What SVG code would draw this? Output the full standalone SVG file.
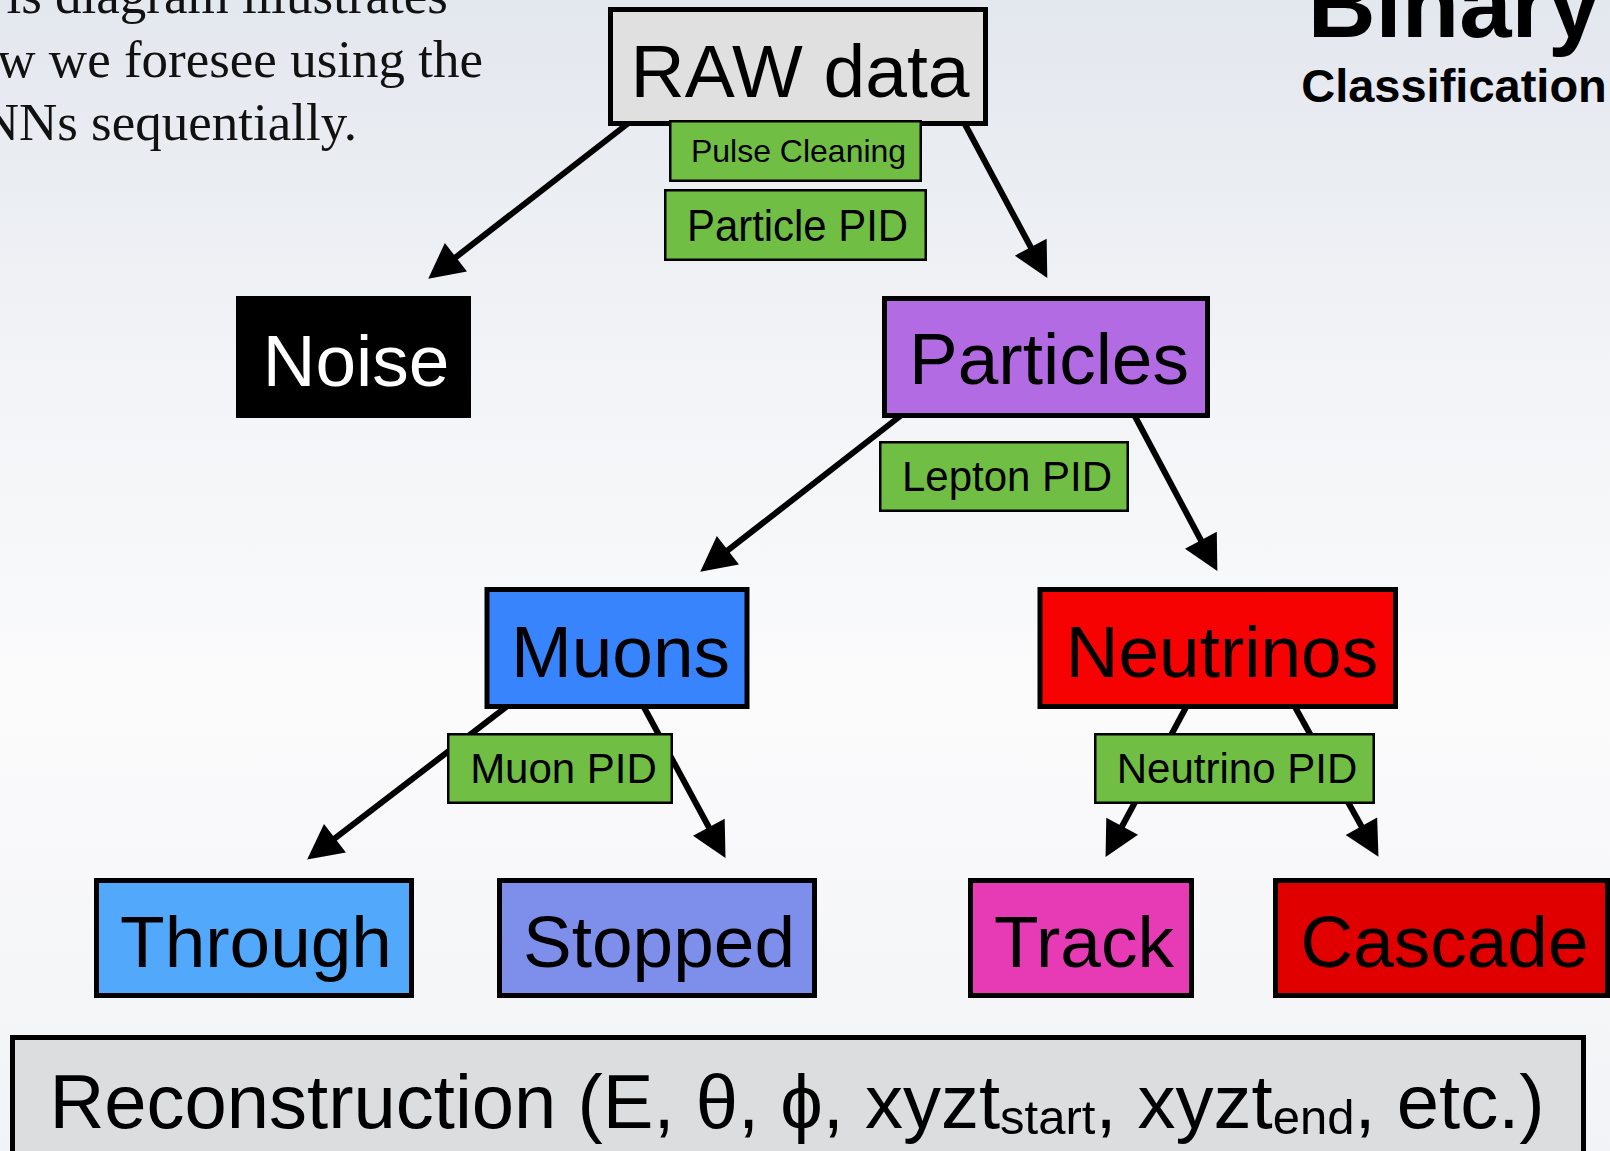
<svg xmlns="http://www.w3.org/2000/svg" width="1610" height="1151" viewBox="0 0 1610 1151">
  <defs>
    <linearGradient id="bg" x1="0" y1="0" x2="0" y2="1">
      <stop offset="0" stop-color="#e3e7ee"/>
      <stop offset="0.3" stop-color="#f1f3f6"/>
      <stop offset="0.6" stop-color="#fbfbfc"/>
      <stop offset="1" stop-color="#f2f3f6"/>
    </linearGradient>
    <marker id="arrow" markerUnits="userSpaceOnUse" markerWidth="36" markerHeight="36" refX="10" refY="18" orient="auto" overflow="visible">
      <path d="M0,0 L35,18 L0,36 Z" fill="#000"/>
    </marker>
    <style>
      .node { stroke: #000; stroke-width: 5; }
      .tag { fill: #70be44; stroke: #000; stroke-width: 2.5; }
      .big { font-family: "Liberation Sans", Arial, Helvetica, sans-serif; font-size: 73px; fill: #000; text-anchor: middle; }
      .tagtxt { font-family: "Liberation Sans", Arial, Helvetica, sans-serif; font-size: 42px; fill: #000; text-anchor: middle; }
      .note { font-family: "Liberation Serif", "Times New Roman", serif; font-size: 53px; fill: #111; text-anchor: end; }
      .title { font-family: "Liberation Sans", Arial, Helvetica, sans-serif; font-weight: bold; fill: #000; text-anchor: middle; }
      .conn line { stroke: #000; stroke-width: 6; marker-end: url(#arrow); }
    </style>
  </defs>

  <rect x="0" y="0" width="1610" height="1151" fill="url(#bg)"/>

  <g id="note">
    <text class="note" x="448" y="13">is diagram illustrates</text>
    <text class="note" x="483" y="77">w we foresee using the</text>
    <text class="note" x="357" y="140">NNs sequentially.</text>
  </g>

  <g id="heading">
    <text class="title" x="1454" y="37" style="font-size:94px">Binary</text>
    <text class="title" x="1454" y="102" style="font-size:47px">Classification</text>
  </g>

  <g id="connectors" class="conn">
    <line x1="635" y1="118" x2="448" y2="263.3"/>
    <line x1="960" y1="115" x2="1035.5" y2="256"/>
    <line x1="908" y1="410" x2="720" y2="556.4"/>
    <line x1="1130" y1="407" x2="1205.6" y2="549"/>
    <line x1="514" y1="701" x2="327" y2="844.4"/>
    <line x1="639" y1="698" x2="713.6" y2="836"/>
    <line x1="1191" y1="698" x2="1117.4" y2="835"/>
    <line x1="1290" y1="698" x2="1366.3" y2="835"/>
  </g>

  <g id="raw">
    <rect class="node" x="610.5" y="9.5" width="375" height="114" fill="#e0e0e0"/>
    <text class="big" x="800" y="97" style="font-size:75px">RAW data</text>
  </g>

  <g id="pulse-cleaning">
    <rect class="tag" x="670.25" y="121.25" width="250.5" height="59.5"/>
    <text class="tagtxt" x="798.5" y="162" style="font-size:32px">Pulse Cleaning</text>
  </g>

  <g id="particle-pid">
    <rect class="tag" x="665.25" y="190.25" width="260.5" height="69.5"/>
    <text class="tagtxt" x="797.5" y="241" style="font-size:45px" textLength="221" lengthAdjust="spacingAndGlyphs">Particle PID</text>
  </g>

  <g id="noise">
    <rect x="236" y="296" width="235" height="122" fill="#000"/>
    <text class="big" x="356" y="386" style="fill:#fff">Noise</text>
  </g>

  <g id="particles">
    <rect class="node" x="884.5" y="298.5" width="323" height="117" fill="#b36be3"/>
    <text class="big" x="1049" y="384">Particles</text>
  </g>

  <g id="lepton-pid">
    <rect class="tag" x="880.25" y="442.25" width="247.5" height="68.5"/>
    <text class="tagtxt" x="1007" y="491">Lepton PID</text>
  </g>

  <g id="muons">
    <rect class="node" x="487" y="589.5" width="260" height="117" fill="#3884fc"/>
    <text class="big" x="620.5" y="677">Muons</text>
  </g>

  <g id="neutrinos">
    <rect class="node" x="1040" y="589.5" width="355.5" height="117" fill="#f70202"/>
    <text class="big" x="1222" y="677">Neutrinos</text>
  </g>

  <g id="muon-pid">
    <rect class="tag" x="448.25" y="734.25" width="223.5" height="68.5"/>
    <text class="tagtxt" x="563.5" y="783">Muon PID</text>
  </g>

  <g id="neutrino-pid">
    <rect class="tag" x="1095.25" y="734.25" width="278.5" height="68.5"/>
    <text class="tagtxt" x="1237" y="783">Neutrino PID</text>
  </g>

  <g id="through">
    <rect class="node" x="96.5" y="880.5" width="315" height="115" fill="#52a9fb"/>
    <text class="big" x="256" y="967">Through</text>
  </g>

  <g id="stopped">
    <rect class="node" x="499.5" y="880.5" width="315" height="115" fill="#7e8feb"/>
    <text class="big" x="659" y="967">Stopped</text>
  </g>

  <g id="track">
    <rect class="node" x="970.5" y="880.5" width="221" height="115" fill="#e73ab5"/>
    <text class="big" x="1084" y="967">Track</text>
  </g>

  <g id="cascade">
    <rect class="node" x="1275.5" y="880.5" width="332" height="115" fill="#e10000"/>
    <text class="big" x="1444.5" y="967">Cascade</text>
  </g>

  <g id="reconstruction">
    <rect class="node" x="12.5" y="1037.5" width="1571" height="130" fill="#dcdddf"/>
    <text class="big" x="797" y="1128" style="font-size:76px">Reconstruction (E, θ, ϕ, xyzt<tspan style="font-size:49px" dy="6">start</tspan><tspan dy="-6">, xyzt</tspan><tspan style="font-size:49px" dy="6">end</tspan><tspan dy="-6">, etc.)</tspan></text>
  </g>
</svg>
